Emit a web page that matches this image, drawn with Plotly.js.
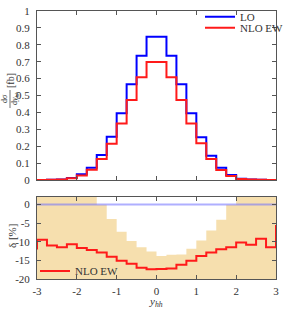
<!DOCTYPE html>
<html><head><meta charset="utf-8">
<script src="https://cdn.plot.ly/plotly-3.0.1.min.js"></script>
<style>html,body{margin:0;padding:0;background:#fff}#plot{width:287px;height:310px}</style>
</head><body><div id="plot"></div>
<script>
// bin left edges (width 0.25) from -3 to 2.75, plus closing edge 3
const binEdges = [-3,-2.75,-2.5,-2.25,-2,-1.75,-1.5,-1.25,-1,-0.75,-0.5,-0.25,0,0.25,0.5,0.75,1,1.25,1.5,1.75,2,2.25,2.5,2.75,3];
// dsigma/dy_hh [fb]
const loValues    = [0,0.001,0.003,0.012,0.034,0.073,0.148,0.256,0.395,0.566,0.735,0.848,0.848,0.735,0.566,0.395,0.253,0.144,0.073,0.030,0.008,0.003,0.001,0,0];
const nloValues   = [0,0.001,0.003,0.010,0.027,0.061,0.124,0.215,0.335,0.473,0.608,0.698,0.698,0.608,0.473,0.335,0.217,0.124,0.059,0.024,0.006,0.003,0.001,0,0];
// ratio panel: edges extended by one bin on both sides (clipped at the frame)
const ratioEdges  = [-3.25,-3,-2.75,-2.5,-2.25,-2,-1.75,-1.5,-1.25,-1,-0.75,-0.5,-0.25,0,0.25,0.5,0.75,1,1.25,1.5,1.75,2,2.25,2.5,2.75,3];
const deltaNLO    = [-11.8,-9.5,-11.0,-11.5,-10.7,-11.7,-12.2,-12.9,-14.0,-15.1,-15.9,-17.0,-17.4,-17.3,-17.2,-16.2,-15.1,-13.8,-12.9,-12.0,-11.5,-10.2,-10.8,-9.2,-11.5,-5.5];
const bandUpper   = [4,4,4,4,4,4,4,-0.1,-3.9,-7.3,-9.8,-11.5,-12.6,-13.8,-13.5,-13.4,-11.9,-9.7,-7.0,-4.1,-0.1,4,4,4,4,4];
const bandLower   = ratioEdges.map(() => -25);
const refX = [-3,3];
const refY = [0,0];
const xTicks = [-3,-2,-1,0,1,2,3];
const xTickText = ["-3","-2","-1","0","1","2","3"];
const yTicks2 = [0,-5,-10,-15,-20];
const yTickText2 = ["0","-5","-10","-15","-20"];

const FONT = "Liberation Serif, DejaVu Serif, serif";
const traces = [
  {x: binEdges, y: loValues, mode:'lines', line:{shape:'hv', color:'#0000ff', width:2}, name:'LO', xaxis:'x2', yaxis:'y', legend:'legend'},
  {x: binEdges, y: nloValues, mode:'lines', line:{shape:'hv', color:'#ff1a1a', width:2}, name:'NLO EW', xaxis:'x2', yaxis:'y', legend:'legend3'},
  {x: ratioEdges, y: bandLower, mode:'lines', line:{shape:'hv', width:0, color:'rgba(0,0,0,0)'}, showlegend:false, hoverinfo:'skip', xaxis:'x', yaxis:'y2'},
  {x: ratioEdges, y: bandUpper, mode:'lines', line:{shape:'hv', width:0, color:'rgba(0,0,0,0)'}, fill:'tonexty', fillcolor:'#f6dfae', showlegend:false, hoverinfo:'skip', xaxis:'x', yaxis:'y2'},
  {x: refX, y: refY, mode:'lines', line:{color:'rgba(110,110,255,0.55)', width:2}, showlegend:false, xaxis:'x', yaxis:'y2'},
  {x: ratioEdges, y: deltaNLO, mode:'lines', line:{shape:'hv', color:'#ff1a1a', width:2}, name:'NLO EW', xaxis:'x', yaxis:'y2', legend:'legend2'}
];

const axBase = {showline:true, linecolor:'#555', linewidth:1, mirror:'ticks', ticks:'inside', ticklen:4, tickcolor:'#555', showgrid:false, zeroline:false,
  ticklabelstandoff:4, tickfont:{family:FONT, size:11, color:'#333'}};

const px2x = p => (p - 37) / 239;
const px2y = p => (279 - p) / 268;
const legFont = {family:FONT, size:11, color:'#333'};

const layout = {
  width:287, height:310,
  margin:{l:37, r:11, t:11, b:31, autoexpand:false},
  paper_bgcolor:'#fff', plot_bgcolor:'#fff',
  font:{family:FONT, size:11, color:'#333'},
  xaxis: Object.assign({}, axBase, {anchor:'y2', range:[-3,3], tickvals:xTicks, ticktext:xTickText, domain:[0,1], ticklabelstandoff:2}),
  xaxis2: Object.assign({}, axBase, {anchor:'y', matches:'x', range:[-3,3], tickvals:xTicks, showticklabels:false}),
  yaxis: Object.assign({}, axBase, {domain:[0.3694,1], range:[0,1], dtick:0.1, tick0:0}),
  yaxis2: Object.assign({}, axBase, {domain:[0,0.306], range:[-20,2], tickvals:yTicks2, ticktext:yTickText2}),
  legend: {x:px2x(200), y:px2y(16.7), xanchor:'left', yanchor:'middle', bgcolor:'rgba(255,255,255,0)', font:legFont},
  legend3: {x:px2x(200), y:px2y(27.7), xanchor:'left', yanchor:'middle', bgcolor:'rgba(255,255,255,0)', font:legFont},
  legend2: {x:px2x(35), y:px2y(271), xanchor:'left', yanchor:'middle', bgcolor:'rgba(0,0,0,0)', font:legFont},
  showlegend:true,
  annotations:[
    {xref:'paper', yref:'paper', x:px2x(10), y:px2y(81), xanchor:'center', yanchor:'middle', text:'[fb]', showarrow:false, textangle:-90, font:{family:FONT, size:10, color:'#333'}},
    {xref:'paper', yref:'paper', x:px2x(5), y:px2y(99), xanchor:'center', yanchor:'middle', text:'dσ', showarrow:false, textangle:-90, font:{family:FONT, size:8, color:'#333'}},
    {xref:'paper', yref:'paper', x:px2x(15), y:px2y(99), xanchor:'center', yanchor:'middle', text:'d<i>y</i><sub><i>hh</i></sub>', showarrow:false, textangle:-90, font:{family:FONT, size:8, color:'#333'}},
    {xref:'paper', yref:'paper', x:px2x(12), y:px2y(236), xanchor:'center', yanchor:'middle', text:'δ [%]', showarrow:false, textangle:-90, font:{family:FONT, size:11, color:'#333'}},
    {xref:'paper', yref:'paper', x:px2x(156), y:px2y(301.5), xanchor:'center', yanchor:'middle', text:'<i>y</i><sub><i>hh</i></sub>', showarrow:false, font:{family:FONT, size:11, color:'#333'}}
  ],
  shapes:[
    {type:'line', xref:'paper', yref:'paper', x0:px2x(10), x1:px2x(10), y0:px2y(90), y1:px2y(108), line:{color:'#333', width:0.7}}
  ]
};
Plotly.newPlot('plot', traces, layout, {staticPlot:true, displayModeBar:false});
</script></body></html>
